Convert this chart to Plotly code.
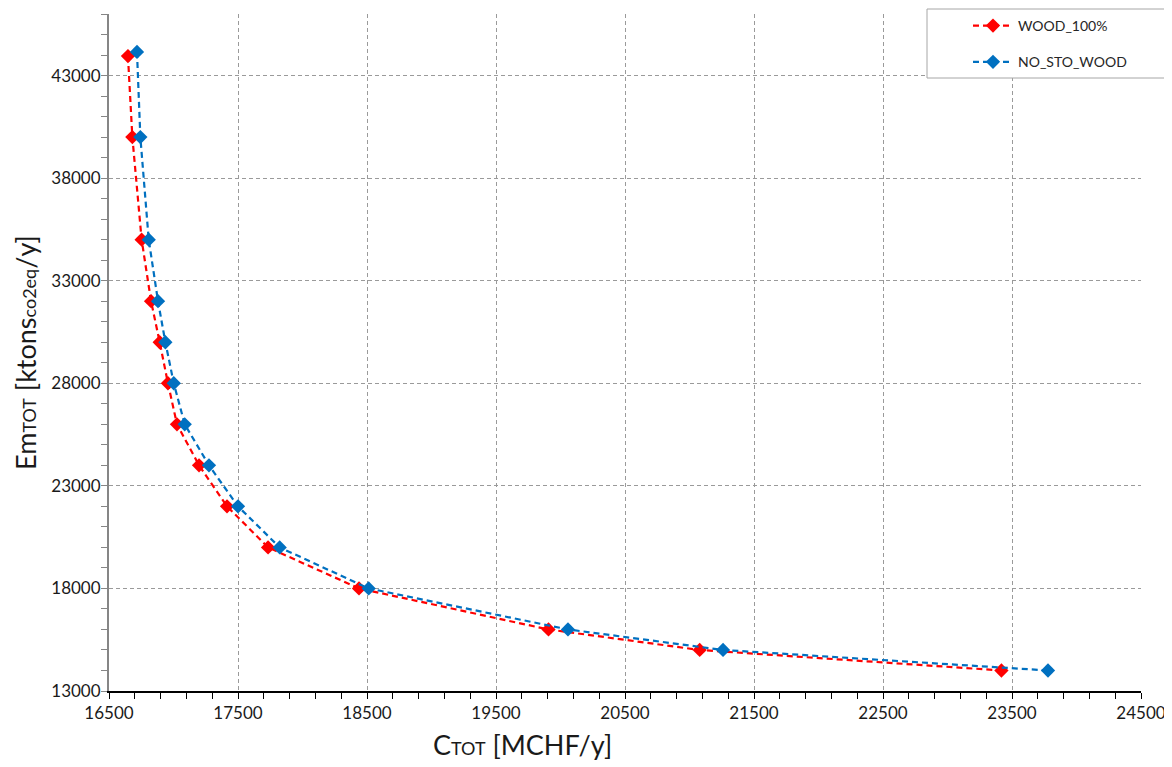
import plotly.graph_objects as go

# Data
wood_cost = [16647, 16681, 16753, 16826, 16893, 16957, 17027, 17198, 17415, 17733, 18438, 19907, 21079, 23418]
wood_emis = [43950, 40000, 35000, 32000, 30000, 28000, 26000, 24000, 22000, 20000, 18000, 16000, 15000, 14000]

nosto_cost = [16717, 16743, 16808, 16880, 16937, 17002, 17087, 17275, 17500, 17823, 18513, 20058, 21260, 23779]
nosto_emis = [44150, 40000, 35000, 32000, 30000, 28000, 26000, 24000, 22000, 20000, 18000, 16000, 15000, 14000]

series_names = ["WOOD_100%", "NO_STO_WOOD"]
x_tick_vals = [16500, 17500, 18500, 19500, 20500, 21500, 22500, 23500, 24500]
y_tick_vals = [13000, 18000, 23000, 28000, 33000, 38000, 43000]

RED = "#FF0000"
BLUE = "#0070C0"
FONT = "Lato"

fig = go.Figure()
fig.add_trace(go.Scatter(
    x=wood_cost, y=wood_emis, name=series_names[0], mode="lines+markers",
    line=dict(color=RED, width=2.2, dash="6px,4px"),
    marker=dict(symbol="diamond", size=11, color=RED),
    legendgroup="a",
))
fig.add_trace(go.Scatter(
    x=nosto_cost, y=nosto_emis, name=series_names[1], mode="lines+markers",
    line=dict(color=BLUE, width=2.2, dash="6px,4px"),
    marker=dict(symbol="diamond", size=11, color=BLUE),
    legendgroup="b",
))

# page has an 8px body margin: page px = figure px + 8
OFF = 8
W, H = 1164, 759
PL, PR, PT, PB = 109, 1141, 14, 691   # plot area in page pixels
L = PL - OFF
T = PT - OFF
R = W - (PR - OFF)
B = H - (PB - OFF)
pw = PR - PL
ph = PB - PT

def px_x(p):
    return (p - PL) / pw

def px_y(p):
    return (PB - p) / ph

fig.update_layout(
    width=W, height=H,
    margin=dict(l=L, r=R, t=T, b=B, pad=0, autoexpand=False),
    paper_bgcolor="white", plot_bgcolor="white",
    font=dict(family=FONT, color="#1a1a1a"),
    showlegend=True,
    legend=dict(
        x=px_x(968), y=px_y(10), xanchor="left", yanchor="top",
        bgcolor="rgba(0,0,0,0)", borderwidth=0,
        font=dict(family=FONT, size=14, color="#262626"),
        tracegroupgap=15,
        itemwidth=40,
    ),
    xaxis=dict(
        range=[16500, 24500], tickmode="array", tickvals=x_tick_vals,
        ticktext=[str(v) for v in x_tick_vals],
        showgrid=True, gridcolor="#9a9a9a", griddash="4px,3px", gridwidth=1,
        zeroline=False, showline=True, linecolor="#000000", linewidth=2,
        ticks="outside", ticklen=6, tickcolor="#000000", tickwidth=1,
        minor=dict(dtick=200, tick0=16500, ticks="outside", ticklen=6, tickcolor="#000000", showgrid=False),
        tickfont=dict(family=FONT, size=17, color="#1a1a1a"),
        automargin=False,
    ),
    yaxis=dict(
        range=[13000, 46000], tickmode="array", tickvals=y_tick_vals,
        ticktext=[str(v) for v in y_tick_vals],
        showgrid=True, gridcolor="#9a9a9a", griddash="4px,3px", gridwidth=1,
        zeroline=False, showline=True, linecolor="#868686", linewidth=2,
        ticks="outside", ticklen=6, tickcolor="#868686", tickwidth=1,
        minor=dict(dtick=1000, tick0=13000, ticks="outside", ticklen=6, tickcolor="#868686", showgrid=False),
        tickfont=dict(family=FONT, size=17, color="#1a1a1a"),
        ticklabelstandoff=-3,
        automargin=False,
    ),
    shapes=[dict(
        type="rect", xref="paper", yref="paper",
        x0=px_x(927), x1=px_x(1168), y0=px_y(78), y1=px_y(9),
        line=dict(color="#a6a6a6", width=1), fillcolor="white", layer="above",
    )],
    annotations=[
        dict(
            text='C<span style="font-size:18px">TOT</span> [MCHF/y]',
            xref="paper", yref="paper", x=px_x(522), y=px_y(744),
            xanchor="center", yanchor="middle", showarrow=False,
            font=dict(family=FONT, size=27, color="#1a1a1a"),
        ),
        dict(
            text='Em<span style="font-size:18px">TOT</span> [ktons<span style="font-size:18px">co2eq</span>/y]',
            xref="paper", yref="paper", x=px_x(26), y=px_y(353),
            xanchor="center", yanchor="middle", showarrow=False, textangle=-90,
            font=dict(family=FONT, size=27, color="#1a1a1a"),
        ),
    ],
)

fig.write_html("out.html")
